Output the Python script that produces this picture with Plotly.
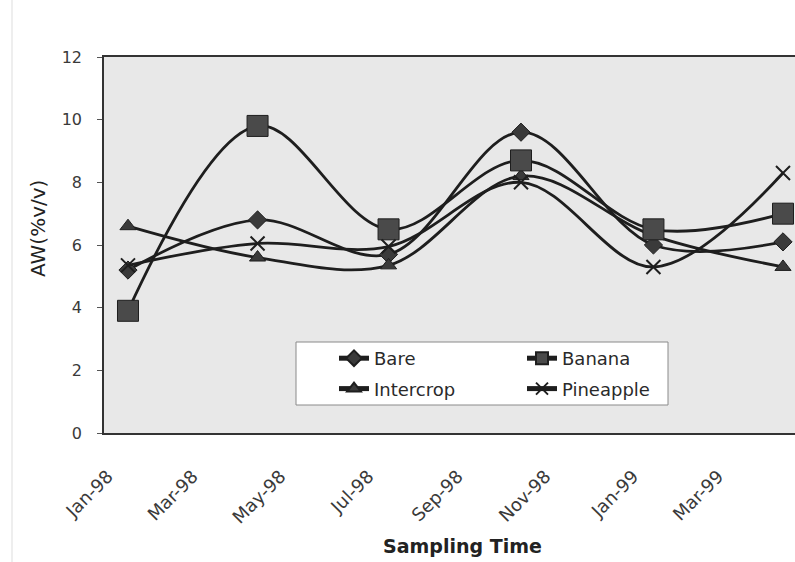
import plotly.graph_objects as go

# Sampling dates (quarterly) and available water per land use
sample_dates = ["1998-01-15", "1998-04-15", "1998-07-15",
                "1998-10-15", "1999-01-15", "1999-04-15"]
bare = [5.2, 6.8, 5.7, 9.6, 6.0, 6.1]
banana = [3.9, 9.8, 6.5, 8.7, 6.5, 7.0]
intercrop = [6.6, 5.6, 5.35, 8.2, 6.3, 5.3]
pineapple = [5.35, 6.05, 5.95, 8.0, 5.3, 8.3]

y_ticks = [0, 2, 4, 6, 8, 10, 12]

W, H = 795, 562
L, R, T, B = 104, 0, 57, 129
PW, PH = W - L - R, H - T - B


def px_x(p):
    return (p - L) / PW


def px_y(p):
    return (H - B - p) / PH


FONT = "DejaVu Sans, Verdana, sans-serif"
line_col = "#1e1e1e"
mark_col = "#3a3a3a"

fig = go.Figure()

series = [
    ("Bare", bare, dict(symbol="diamond", size=14, color=mark_col,
                        line=dict(color=line_col, width=1)), "legend", "g1"),
    ("Intercrop", intercrop, dict(symbol="triangle-up", size=14, color=mark_col,
                                  line=dict(color=line_col, width=1)), "legend", "g2"),
    ("Banana", banana, dict(symbol="square", size=21, color="#4a4a4a",
                            line=dict(color=line_col, width=1)), "legend2", "g3"),
    ("Pineapple", pineapple, dict(symbol="x-thin-open", size=14, color=line_col,
                                  line=dict(color=line_col, width=2)), "legend2", "g4"),
]

for name, vals, marker, leg, grp in series:
    fig.add_trace(go.Scatter(
        x=sample_dates, y=vals, name=name, mode="lines+markers",
        line=dict(color=line_col, width=2.8, shape="spline", smoothing=1.0),
        marker=marker, legend=leg, legendgroup=grp,
    ))

legend_common = dict(
    bgcolor="rgba(0,0,0,0)", borderwidth=0, orientation="v",
    font=dict(family=FONT, size=18, color="#2a2a2a"),
    xanchor="left", yanchor="top", tracegroupgap=4, itemsizing="constant",
)

fig.update_layout(
    width=W, height=H,
    margin=dict(l=L, r=R, t=T, b=B),
    paper_bgcolor="white",
    plot_bgcolor="#e8e8e8",
    showlegend=True,
    legend=dict(x=px_x(334), y=px_y(340), **legend_common),
    legend2=dict(x=px_x(522), y=px_y(340), **legend_common),
    xaxis=dict(
        type="date",
        range=["1997-12-29 08:00", "1999-04-23 08:00"],
        tick0="1998-01-01", dtick="M2", tickformat="%b-%y",
        tickangle=-45, ticks="", ticklabelstandoff=24,
        tickfont=dict(family=FONT, size=18, color="#3a3a3a"),
        showgrid=False, zeroline=False,
        showline=True, linecolor="#333333", linewidth=1.6, mirror=True,
    ),
    yaxis=dict(
        range=[0, 12], tickvals=y_ticks,
        ticks="outside", ticklen=5, tickcolor="#555555",
        ticklabelstandoff=12,
        tickfont=dict(family=FONT, size=16, color="#3a3a3a"),
        showgrid=False, zeroline=False,
        showline=True, linecolor="#333333", linewidth=1.6,
    ),
    shapes=[
        # legend frame
        dict(type="rect", xref="paper", yref="paper",
             x0=px_x(296), x1=px_x(668), y0=px_y(405), y1=px_y(342),
             fillcolor="white", line=dict(color="#8a8a8a", width=1), layer="above"),
        # faint outer chart border
        dict(type="line", xref="paper", yref="paper",
             x0=px_x(12), x1=px_x(12), y0=px_y(562), y1=px_y(0),
             line=dict(color="#dddddd", width=1)),
    ],
    annotations=[
        dict(text="AW(%v/v)", xref="paper", yref="paper",
             x=px_x(38), y=px_y(229), xanchor="center", yanchor="middle",
             textangle=-90, showarrow=False,
             font=dict(family=FONT, size=20, color="#222222")),
        dict(text="<b>Sampling Time</b>", xref="paper", yref="paper",
             x=px_x(462), y=px_y(546), xanchor="center", yanchor="middle",
             showarrow=False,
             font=dict(family=FONT, size=19, color="#222222")),
    ],
)

fig.write_html("out.html")
